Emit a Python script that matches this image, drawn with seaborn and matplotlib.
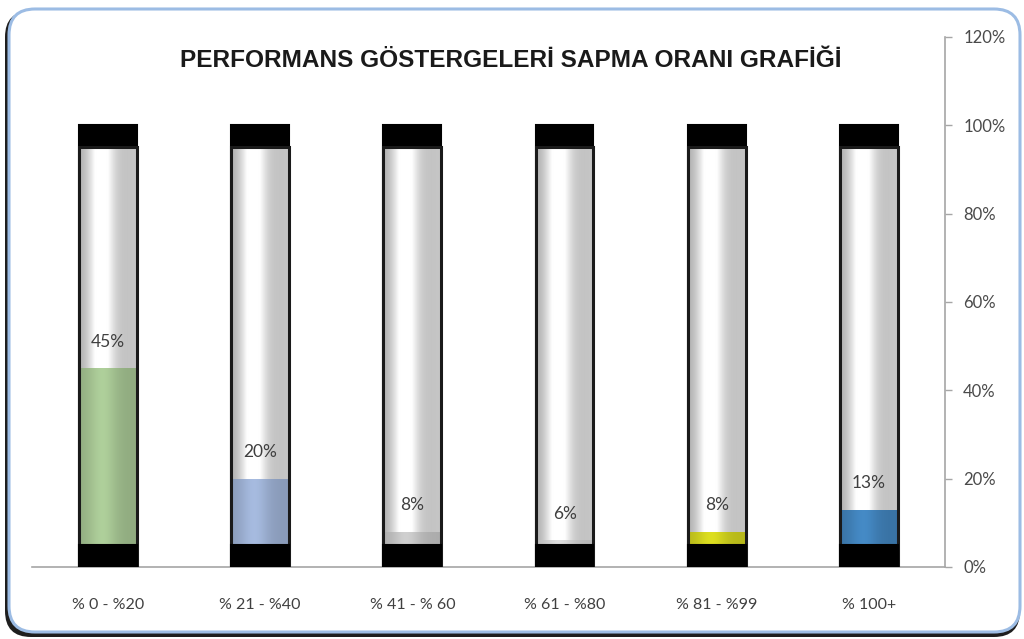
import numpy as np
import matplotlib
matplotlib.use("Agg")
import matplotlib.pyplot as plt
import seaborn as sns
from matplotlib.patches import FancyBboxPatch, Rectangle
from matplotlib.ticker import FuncFormatter

# data
categories = ['% 0 - %20', '% 21 - %40', '% 41 - % 60', '% 61 - %80', '% 81 - %99', '% 100+']
rates = [45, 20, 8, 6, 8, 13]
fill_colors = ['#A3CC8A', '#94AEDC', '#C4C4C4', '#D2D2D2', '#EEF000', '#2D84CF']

TUBE_TOP = 100   # top of the black cap
TUBE_BODY = 95   # top of the glass tube
BASE = 5         # bottom black cap
BAR_W = 0.38

sns.set_style("white")
plt.rcParams['font.family'] = ['Lato', 'DejaVu Sans']

fig = plt.figure(figsize=(10.24, 6.39), dpi=100)

# frame with shadow, like the excel chart area
shadow = FancyBboxPatch((5, 2), 1015, 626, boxstyle='round,pad=0,rounding_size=26',
                        transform=None, facecolor='#1e1e1e', edgecolor='none', zorder=-3)
frame = FancyBboxPatch((9, 7), 1011, 623, boxstyle='round,pad=0,rounding_size=26',
                       transform=None, facecolor='white', edgecolor='#9CBCE4', linewidth=2.2, zorder=-2)
fig.patches.extend([shadow, frame])

ax = fig.add_axes([0.031, 0.1127, 0.892, 0.8294])
ax.patch.set_alpha(0)

# outer black bar (top cap)
sns.barplot(x=categories, y=[TUBE_TOP] * len(categories), color='black', width=BAR_W,
            errorbar=None, ax=ax, edgecolor='black', linewidth=1.5)
n0 = len(ax.patches)
# glass tube body
sns.barplot(x=categories, y=[TUBE_BODY] * len(categories), color='#E6E6E6', width=BAR_W,
            errorbar=None, ax=ax, edgecolor='none')
tube_patches = list(ax.patches[n0:])
n1 = len(ax.patches)
# value fill
sns.barplot(x=categories, y=rates, hue=categories, palette=fill_colors, width=BAR_W,
            errorbar=None, legend=False, ax=ax, edgecolor='none')
fill_patches = list(ax.patches[n1:])
n2 = len(ax.patches)
# bottom black cap
sns.barplot(x=categories, y=[BASE] * len(categories), color='black', width=BAR_W,
            errorbar=None, ax=ax, edgecolor='black', linewidth=1.5)
base_patches = list(ax.patches[n2:])

for p in tube_patches:
    p.set_zorder(2)
for p in fill_patches:
    p.set_zorder(3)
for p in base_patches:
    p.set_zorder(5)

# glassy horizontal gradient on the tube
xs = np.linspace(0, 1, 200)
shade = 0.68 + 0.36 * np.exp(-((xs - 0.38) / 0.22) ** 2) + 0.1 * xs
shade = np.clip(shade, 0, 1)
grad = np.dstack([shade, shade, shade])
for p in tube_patches:
    x0, w = p.get_x(), p.get_width()
    im = ax.imshow(grad, extent=[x0, x0 + w, 0, TUBE_BODY], aspect='auto',
                   zorder=2.5, interpolation='bicubic')
    im.set_clip_path(p)

# slight sheen on the colored fills
for p in fill_patches:
    x0, w = p.get_x(), p.get_width()
    base = np.array(p.get_facecolor()[:3])
    light = 0.88 + 0.18 * np.exp(-((xs - 0.4) / 0.25) ** 2)
    img = np.clip(base[None, :] * light[:, None], 0, 1)[None, :, :]
    im = ax.imshow(img, extent=[x0, x0 + w, 0, p.get_height()], aspect='auto',
                   zorder=3.5, interpolation='bicubic')
    im.set_clip_path(p)

# dark outline of the tube
for p in tube_patches:
    ax.add_patch(Rectangle((p.get_x(), 0), p.get_width(), TUBE_BODY, fill=False,
                           edgecolor='#1a1a1a', linewidth=2.2, zorder=4))

for i, v in enumerate(rates):
    ax.text(i, v + 6, f'{v}%', ha='center', va='center', fontsize=12.5,
            color='#3f3f3f', zorder=6)

ax.set_xlim(-0.5, 5.5)
ax.set_ylim(0, 120)
ax.set_yticks(range(0, 121, 20))
ax.yaxis.set_major_formatter(FuncFormatter(lambda v, _: f'{int(v)}%'))
ax.yaxis.tick_right()
ax.tick_params(axis='y', direction='out', length=5, width=1, color='#A6A6A6',
               labelsize=12, labelcolor='#4a4a4a', pad=8, right=True, left=False)
ax.tick_params(axis='x', length=0, labelsize=11.5, labelcolor='#404040', pad=22)
for side in ['top', 'left']:
    ax.spines[side].set_visible(False)
for side in ['right', 'bottom']:
    ax.spines[side].set_color('#A6A6A6')
    ax.spines[side].set_linewidth(1.2)

fig.text(0.499, 0.905, 'PERFORMANS GÖSTERGELERİ SAPMA ORANI GRAFİĞİ',
         ha='center', va='center', fontsize=17.6, fontweight='bold',
         family=['Liberation Sans', 'DejaVu Sans'], color='#1a1a1a')

fig.savefig('out.png', dpi=100)
